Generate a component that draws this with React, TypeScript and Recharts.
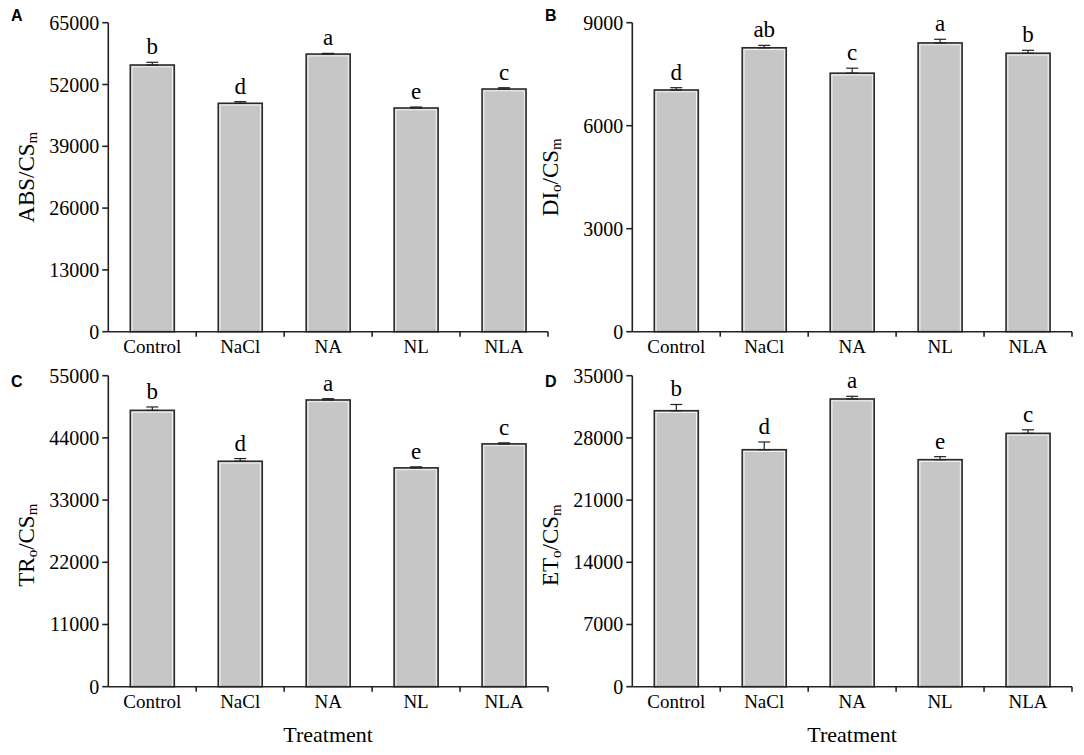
import React from 'react';
import { BarChart, Bar, XAxis, YAxis, ErrorBar, LabelList } from 'recharts';

const categories = ['Control', 'NaCl', 'NA', 'NL', 'NLA'];

const absValues = [56100, 48050, 58400, 47060, 51050];
const absErrors = [570, 340, 150, 200, 270];
const absLetters = ['b', 'd', 'a', 'e', 'c'];
const absTicks = [0, 13000, 26000, 39000, 52000, 65000];

const dioValues = [7040, 8270, 7530, 8410, 8110];
const dioErrors = [67, 70, 145, 107, 87];
const dioLetters = ['d', 'ab', 'c', 'a', 'b'];
const dioTicks = [0, 3000, 6000, 9000];

const troValues = [48870, 39870, 50710, 38700, 42940];
const troErrors = [600, 475, 230, 180, 180];
const troLetters = ['b', 'd', 'a', 'e', 'c'];
const troTicks = [0, 11000, 22000, 33000, 44000, 55000];

const etoValues = [31060, 26670, 32380, 25550, 28510];
const etoErrors = [700, 870, 300, 340, 400];
const etoLetters = ['b', 'd', 'a', 'e', 'c'];
const etoTicks = [0, 7000, 14000, 21000, 28000, 35000];

const SERIF = "Liberation Serif";
const SANS = "Liberation Sans";
const INK = '#222';

type Part = { t: string; sub?: boolean };

const YTitle = (props: any) => {
  const { viewBox, parts, shift } = props;
  const cx = viewBox.x + 26;
  const cy = viewBox.y + viewBox.height / 2 + (shift || 0);
  let prevSub = false;
  return (
    <text
      x={cx}
      y={cy}
      transform={`rotate(-90, ${cx}, ${cy})`}
      textAnchor="middle"
      dominantBaseline="central"
      fontFamily={SERIF}
      fontSize={23}
      fill="#000"
    >
      {parts.map((p: Part, i: number) => {
        let dy = 0;
        if (p.sub && !prevSub) dy = 6;
        if (!p.sub && prevSub) dy = -6;
        prevSub = !!p.sub;
        return (
          <tspan key={i} dy={dy} fontSize={p.sub ? 15 : 23}>
            {p.t}
          </tspan>
        );
      })}
    </text>
  );
};

const XTitle = (props: any) => {
  const { viewBox } = props;
  return (
    <text
      x={viewBox.x + viewBox.width / 2}
      y={viewBox.y + 55}
      textAnchor="middle"
      fontFamily={SERIF}
      fontSize={22}
      fill="#000"
    >
      Treatment
    </text>
  );
};

const CatTick = (props: any) => {
  const { x, y, payload, width, visibleTicksCount } = props;
  const band = width / visibleTicksCount;
  const right = x + band / 2;
  return (
    <g>
      <line x1={right} x2={right} y1={y} y2={y + 5} stroke={INK} strokeWidth={1.6} />
      <text x={x} y={y + 21} textAnchor="middle" fontFamily={SERIF} fontSize={19} fill="#000">
        {payload.value}
      </text>
    </g>
  );
};

const NumTick = (props: any) => {
  const { x, y, payload } = props;
  return (
    <text x={x} y={y} dy={7} textAnchor="end" fontFamily={SERIF} fontSize={20} fill="#000">
      {payload.value}
    </text>
  );
};

const BarShape = (props: any) => {
  const { x, y, width, height } = props;
  if (!height || height <= 0) return null;
  return (
    <g>
      <rect x={x} y={y} width={width} height={height} fill="#c6c6c6" stroke="#2a2a2a" strokeWidth={1.6} />
      <rect
        x={x + 1.8}
        y={y + 1.8}
        width={Math.max(0, width - 3.6)}
        height={Math.max(0, height - 1.8)}
        fill="none"
        stroke="#f2f2f2"
        strokeWidth={1}
      />
    </g>
  );
};

type PanelProps = {
  values: number[];
  errors: number[];
  letters: string[];
  ticks: number[];
  title: Part[];
  left: number;
  top: number;
  height: number;
  plotHeight: number;
  bottomRow: boolean;
};

const Panel = ({ values, errors, letters, ticks, title, left, top, height, plotHeight, bottomRow }: PanelProps) => {
  const data = categories.map((c, i) => ({
    name: c,
    value: values[i],
    err: [0, errors[i]],
    letter: letters[i],
  }));
  const marginTop = 22.7;
  const xAxisHeight = height - marginTop - plotHeight;
  const renderLetter = (p: any) => {
    const { x, y, width, height: h, value, index } = p;
    const errPx = h > 0 ? (errors[index] * h) / values[index] : 0;
    return (
      <text
        x={x + width / 2}
        y={y - errPx - 8}
        textAnchor="middle"
        fontFamily={SERIF}
        fontSize={23}
        fill="#000"
      >
        {value}
      </text>
    );
  };
  return (
    <div style={{ position: 'absolute', left, top }}>
      <BarChart
        width={559}
        height={height}
        data={data}
        margin={{ top: marginTop, right: 11, left: 0, bottom: 0 }}
        barSize={44}
      >
        <XAxis
          dataKey="name"
          height={xAxisHeight}
          axisLine={{ stroke: INK, strokeWidth: 1.6 }}
          tickLine={false}
          tickSize={0}
          tickMargin={0}
          interval={0}
          tick={<CatTick />}
          label={bottomRow ? <XTitle /> : undefined}
        />
        <YAxis
          width={108.3}
          type="number"
          domain={[0, ticks[ticks.length - 1]]}
          ticks={ticks}
          interval={0}
          axisLine={{ stroke: INK, strokeWidth: 1.6 }}
          tickLine={{ stroke: INK, strokeWidth: 1.6 }}
          tickSize={6}
          tickMargin={3}
          tick={<NumTick />}
          label={<YTitle parts={title} shift={bottomRow ? 14 : 0} />}
        />
        <Bar dataKey="value" shape={<BarShape />} isAnimationActive={false}>
          <ErrorBar dataKey="err" direction="y" width={6} stroke="#222" strokeWidth={1.2} />
          <LabelList dataKey="letter" content={renderLetter} />
        </Bar>
      </BarChart>
    </div>
  );
};

const panelLetters = [
  { t: 'A', x: 11, y: 21 },
  { t: 'B', x: 545, y: 21 },
  { t: 'C', x: 11, y: 387 },
  { t: 'D', x: 545, y: 387 },
];

export default function App() {
  return (
    <div style={{ position: 'absolute', left: 0, top: 0, width: 1084, height: 755, background: '#fff', overflow: 'hidden' }}>
      <Panel
        values={absValues}
        errors={absErrors}
        letters={absLetters}
        ticks={absTicks}
        title={[{ t: 'ABS/CS' }, { t: 'm', sub: true }]}
        left={0}
        top={0}
        height={365}
        plotHeight={309}
        bottomRow={false}
      />
      <Panel
        values={dioValues}
        errors={dioErrors}
        letters={dioLetters}
        ticks={dioTicks}
        title={[{ t: 'DI' }, { t: 'o', sub: true }, { t: '/CS' }, { t: 'm', sub: true }]}
        left={524.4}
        top={0}
        height={365}
        plotHeight={309}
        bottomRow={false}
      />
      <Panel
        values={troValues}
        errors={troErrors}
        letters={troLetters}
        ticks={troTicks}
        title={[{ t: 'TR' }, { t: 'o', sub: true }, { t: '/CS' }, { t: 'm', sub: true }]}
        left={0}
        top={353.3}
        height={401.7}
        plotHeight={311}
        bottomRow={true}
      />
      <Panel
        values={etoValues}
        errors={etoErrors}
        letters={etoLetters}
        ticks={etoTicks}
        title={[{ t: 'ET' }, { t: 'o', sub: true }, { t: '/CS' }, { t: 'm', sub: true }]}
        left={524.4}
        top={353.3}
        height={401.7}
        plotHeight={311}
        bottomRow={true}
      />
      <svg width={1084} height={755} style={{ position: 'absolute', left: 0, top: 0, pointerEvents: 'none' }}>
        {panelLetters.map((p) => (
          <text key={p.t} x={p.x} y={p.y} fontFamily={SANS} fontWeight="bold" fontSize={16} fill="#000">
            {p.t}
          </text>
        ))}
      </svg>
    </div>
  );
}
